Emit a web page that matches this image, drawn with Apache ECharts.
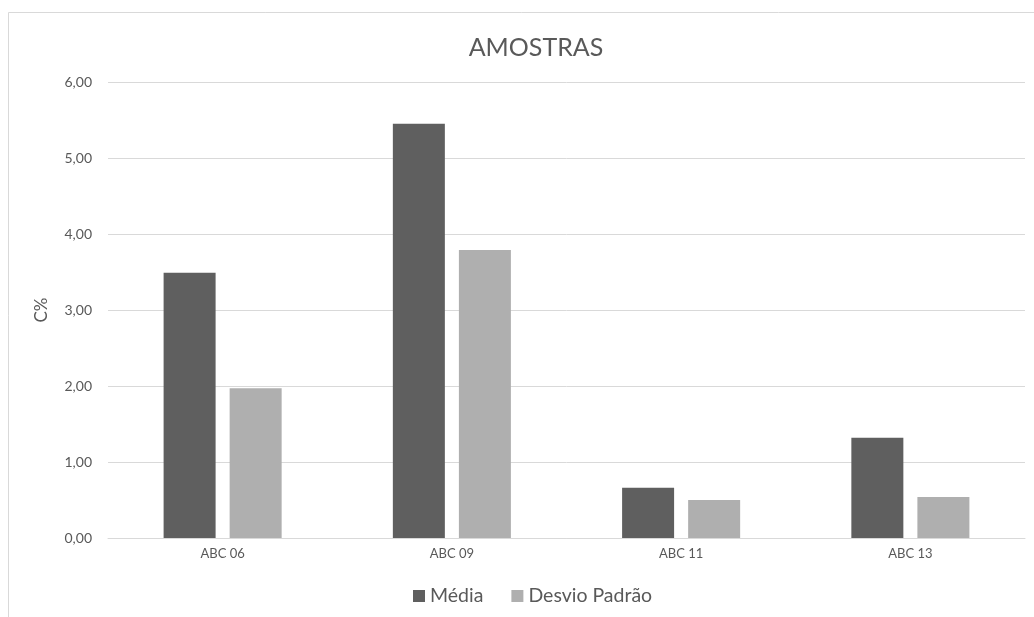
<!DOCTYPE html>
<html>
<head>
<meta charset="utf-8">
<script src="https://cdn.jsdelivr.net/npm/echarts@6/dist/echarts.min.js"></script>
<style>
  html, body { margin: 0; padding: 0; background: #fff; }
  #chart { width: 1034px; height: 617px; }
</style>
</head>
<body>
<div id="chart"></div>
<script>
// Sample categories and their measured values (C%)
const categories = ['ABC 06', 'ABC 09', 'ABC 11', 'ABC 13'];
const media = [3.49, 5.45, 0.66, 1.32];
const desvioPadrao = [1.97, 3.79, 0.50, 0.54];
const seriesNames = ['Média', 'Desvio Padrão'];
const yTicks = { min: 0, max: 6, interval: 1 };

const FONT = 'Lato, "Open Sans", sans-serif';
const TEXT = '#595959';
const GRID = '#d9d9d9';

const fmt = v => v.toFixed(2).replace('.', ',');

const chart = echarts.init(document.getElementById('chart'), null, { renderer: 'canvas' });
chart.setOption({
  backgroundColor: '#fff',
  animation: false,
  textStyle: { fontFamily: FONT, color: TEXT },
  // chart area frame (extends past the right and bottom edges)
  graphic: [{
    type: 'rect',
    shape: { x: 8.5, y: 12.5, width: 1100, height: 700 },
    style: { fill: 'none', stroke: GRID, lineWidth: 1 },
    silent: true
  }],
  title: {
    text: 'AMOSTRAS',
    left: 531,
    top: 30,
    textAlign: 'center',
    textStyle: { fontFamily: FONT, fontSize: 25, fontWeight: 'normal', color: TEXT }
  },
  legend: {
    data: seriesNames,
    bottom: 6,
    left: 408,
    itemWidth: 12,
    itemHeight: 12,
    itemGap: 28,
    icon: 'rect',
    textStyle: { fontFamily: FONT, fontSize: 19.5, color: TEXT }
  },
  grid: { left: 108, right: 9, top: 82, bottom: 79, containLabel: false },
  xAxis: {
    type: 'category',
    data: categories,
    axisLine: { show: true, lineStyle: { color: GRID, width: 1 } },
    axisTick: { show: false },
    axisLabel: { fontFamily: FONT, fontSize: 13, color: TEXT, margin: 9 }
  },
  yAxis: {
    type: 'value',
    min: yTicks.min,
    max: yTicks.max,
    interval: yTicks.interval,
    name: 'C%',
    nameLocation: 'middle',
    nameGap: 58,
    nameRotate: 90,
    nameTextStyle: { fontFamily: FONT, fontSize: 17, color: TEXT },
    axisLine: { show: false },
    axisTick: { show: false },
    splitLine: { lineStyle: { color: GRID, width: 1 } },
    axisLabel: { fontFamily: FONT, fontSize: 14, color: TEXT, margin: 16, formatter: fmt }
  },
  series: [
    {
      name: seriesNames[0],
      type: 'bar',
      data: media,
      barWidth: 52,
      barGap: '27%',
      itemStyle: { color: '#5f5f5f' }
    },
    {
      name: seriesNames[1],
      type: 'bar',
      data: desvioPadrao,
      barWidth: 52,
      barGap: '27%',
      itemStyle: { color: '#afafaf' }
    }
  ]
});
</script>
</body>
</html>
